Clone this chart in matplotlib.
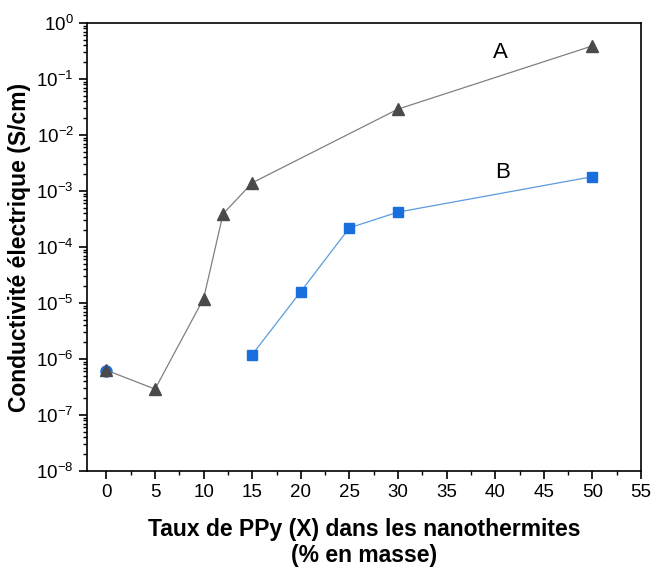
import matplotlib
matplotlib.use("Agg")
import matplotlib.pyplot as plt
from matplotlib.ticker import LogLocator, MultipleLocator

plt.rcParams["font.family"] = ["Liberation Sans", "DejaVu Sans"]

# Serie A (triangles)
x_a = [0, 5, 10, 12, 15, 30, 50]
y_a = [6.3e-7, 2.9e-7, 1.2e-5, 3.9e-4, 1.4e-3, 2.9e-2, 0.39]

# Serie B (carres)
x_b = [15, 20, 25, 30, 50]
y_b = [1.2e-6, 1.6e-5, 2.2e-4, 4.2e-4, 1.8e-3]

# point B a 0 % (cercle bleu)
x_b0 = [0]
y_b0 = [6.0e-7]

fig = plt.figure(figsize=(6.52, 5.70), dpi=100)
ax = fig.add_axes([87 / 652, 1 - 471 / 570, (641 - 87) / 652, (471 - 23) / 570])

ax.plot(x_b0, y_b0, "o", color="#1a6fdf", markersize=8, zorder=2)
ax.plot(x_a, y_a, "-", color="#808080", linewidth=0.9, zorder=3)
ax.plot(x_a, y_a, "^", color="#4a4a4a", markersize=9, zorder=4)
ax.plot(x_b, y_b, "-", color="#5b9be0", linewidth=0.9, zorder=3)
ax.plot(x_b, y_b, "s", color="#1a6fdf", markersize=7, zorder=4)

ax.text(40.5, 0.3, "A", fontsize=16, ha="center", va="center")
ax.text(40.8, 2.1e-3, "B", fontsize=16, ha="center", va="center")

ax.set_yscale("log")
ax.set_xlim(-2, 55)
ax.set_ylim(1e-8, 1)

ax.xaxis.set_major_locator(MultipleLocator(5))
ax.xaxis.set_minor_locator(MultipleLocator(2.5))
ax.yaxis.set_major_locator(LogLocator(base=10, numticks=20))
ax.yaxis.set_minor_locator(LogLocator(base=10, subs=range(2, 10), numticks=20))

ax.tick_params(which="both", direction="out", top=False, right=False, labelsize=13.5)
ax.tick_params(which="major", length=6, width=1.2)
ax.tick_params(which="minor", length=3, width=1)
for s in ax.spines.values():
    s.set_linewidth(1.2)

ax.set_xlabel("Taux de PPy (X) dans les nanothermites\n(% en masse)",
              fontsize=16.5, fontweight="bold", labelpad=12)
ax.set_ylabel("Conductivité électrique (S/cm)", fontsize=16.5, fontweight="bold",
              labelpad=4)

fig.savefig("out.png", dpi=100)
